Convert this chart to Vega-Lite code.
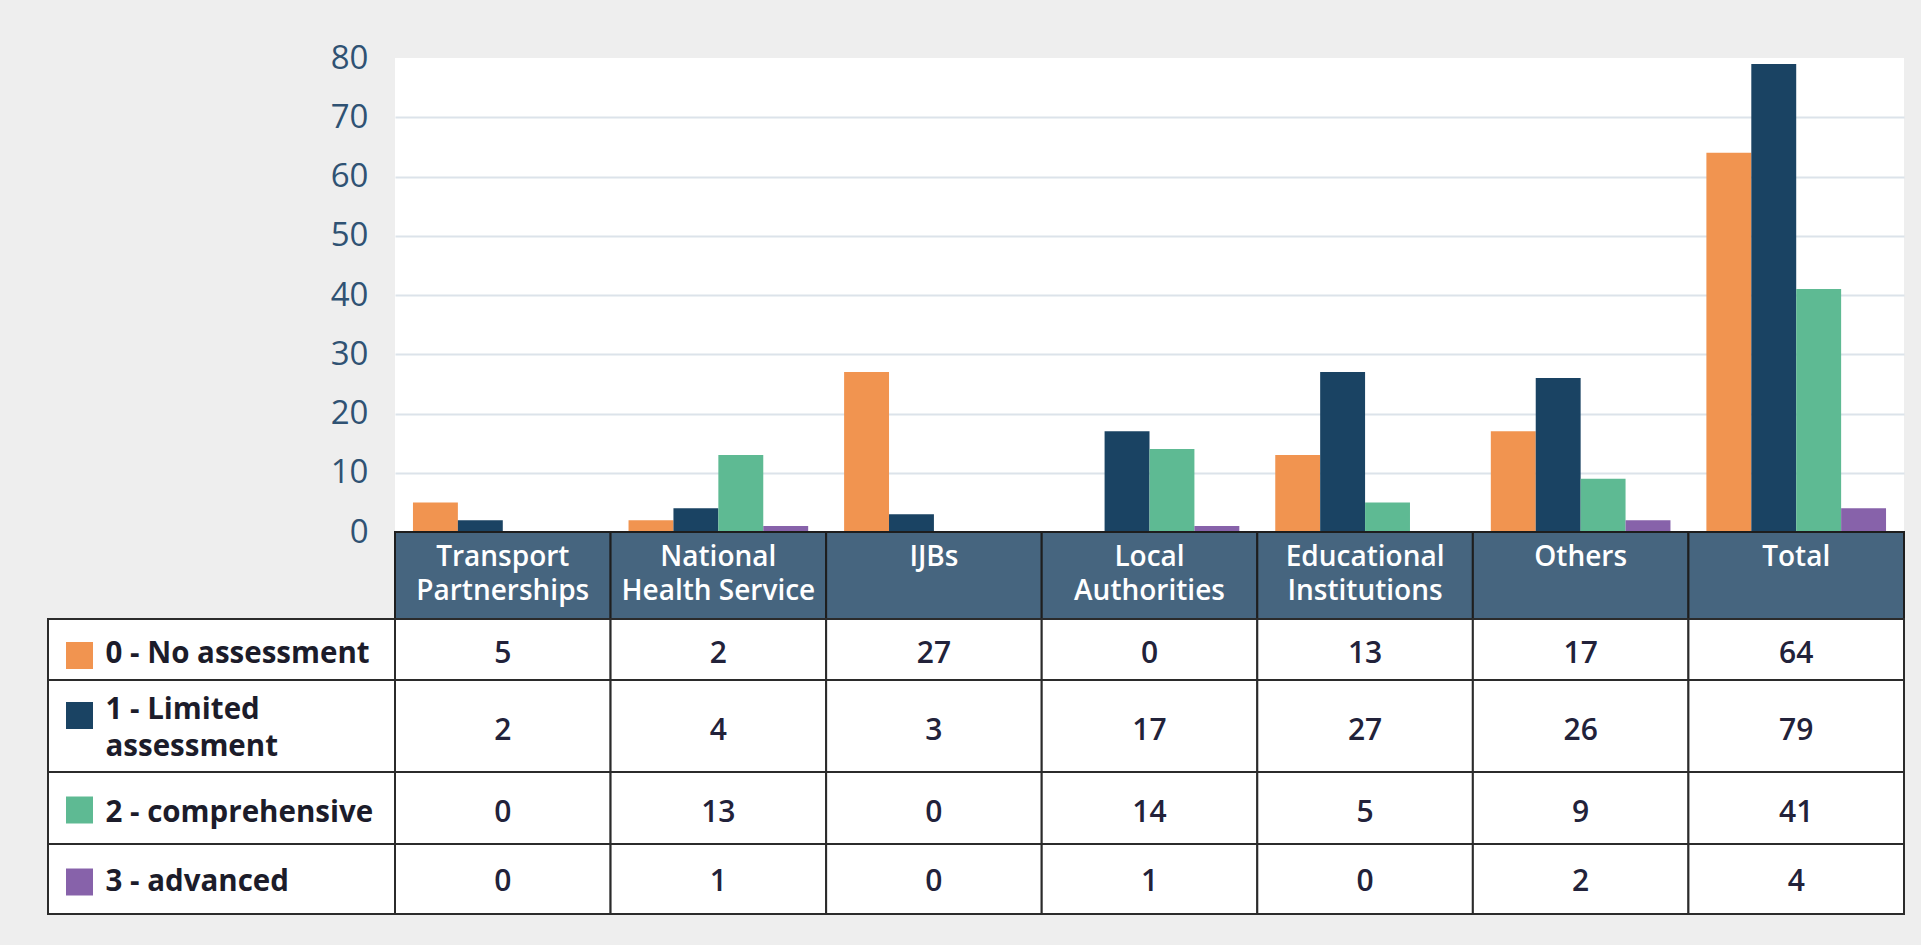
{
  "$schema": "https://vega.github.io/schema/vega-lite/v6.json",
  "background": "#eeeeee",
  "padding": {"left": 47, "top": 42, "right": 16, "bottom": 30},
  "config": {"view": {"stroke": null}, "font": "Open Sans"},
  "datasets": {
    "counts": [
      {"sector": "Transport Partnerships", "level": "0 - No assessment", "count": 5},
      {"sector": "Transport Partnerships", "level": "1 - Limited assessment", "count": 2},
      {"sector": "Transport Partnerships", "level": "2 - comprehensive", "count": 0},
      {"sector": "Transport Partnerships", "level": "3 - advanced", "count": 0},
      {"sector": "National Health Service", "level": "0 - No assessment", "count": 2},
      {"sector": "National Health Service", "level": "1 - Limited assessment", "count": 4},
      {"sector": "National Health Service", "level": "2 - comprehensive", "count": 13},
      {"sector": "National Health Service", "level": "3 - advanced", "count": 1},
      {"sector": "IJBs", "level": "0 - No assessment", "count": 27},
      {"sector": "IJBs", "level": "1 - Limited assessment", "count": 3},
      {"sector": "IJBs", "level": "2 - comprehensive", "count": 0},
      {"sector": "IJBs", "level": "3 - advanced", "count": 0},
      {"sector": "Local Authorities", "level": "0 - No assessment", "count": 0},
      {"sector": "Local Authorities", "level": "1 - Limited assessment", "count": 17},
      {"sector": "Local Authorities", "level": "2 - comprehensive", "count": 14},
      {"sector": "Local Authorities", "level": "3 - advanced", "count": 1},
      {"sector": "Educational Institutions", "level": "0 - No assessment", "count": 13},
      {"sector": "Educational Institutions", "level": "1 - Limited assessment", "count": 27},
      {"sector": "Educational Institutions", "level": "2 - comprehensive", "count": 5},
      {"sector": "Educational Institutions", "level": "3 - advanced", "count": 0},
      {"sector": "Others", "level": "0 - No assessment", "count": 17},
      {"sector": "Others", "level": "1 - Limited assessment", "count": 26},
      {"sector": "Others", "level": "2 - comprehensive", "count": 9},
      {"sector": "Others", "level": "3 - advanced", "count": 2},
      {"sector": "Total", "level": "0 - No assessment", "count": 64},
      {"sector": "Total", "level": "1 - Limited assessment", "count": 79},
      {"sector": "Total", "level": "2 - comprehensive", "count": 41},
      {"sector": "Total", "level": "3 - advanced", "count": 4}
    ],
    "sectors": [
      {"sector": "Transport Partnerships", "header": "Transport\nPartnerships"},
      {"sector": "National Health Service", "header": "National\nHealth Service"},
      {"sector": "IJBs", "header": "IJBs"},
      {"sector": "Local Authorities", "header": "Local\nAuthorities"},
      {"sector": "Educational Institutions", "header": "Educational\nInstitutions"},
      {"sector": "Others", "header": "Others"},
      {"sector": "Total", "header": "Total"}
    ],
    "levels": [
      {"level": "0 - No assessment", "rowLabel": "0 - No assessment"},
      {"level": "1 - Limited assessment", "rowLabel": "1 - Limited\nassessment"},
      {"level": "2 - comprehensive", "rowLabel": "2 - comprehensive"},
      {"level": "3 - advanced", "rowLabel": "3 - advanced"}
    ]
  },
  "columns": 2,
  "spacing": 0,
  "bounds": "flush",
  "resolve": {"scale": {"x": "independent", "y": "independent"}},
  "concat": [
    {
      "width": 347, "height": 474,
      "data": {"values": [{"blank": ""}]},
      "mark": {"type": "text"},
      "encoding": {"text": {"field": "blank"}}
    },
    {
      "width": 1509, "height": 474,
      "view": {"fill": "white", "stroke": null},
      "data": {"name": "counts"},
      "mark": {"type": "bar"},
      "encoding": {
        "x": {"field": "sector", "type": "nominal", "sort": ["Transport Partnerships", "National Health Service", "IJBs", "Local Authorities", "Educational Institutions", "Others", "Total"], "scale": {"paddingInner": 0, "paddingOuter": 0}, "axis": null},
        "xOffset": {"field": "level", "type": "nominal", "sort": ["0 - No assessment", "1 - Limited assessment", "2 - comprehensive", "3 - advanced"], "scale": {"paddingInner": 0, "paddingOuter": 0.4}},
        "y": {
          "field": "count", "type": "quantitative",
          "scale": {"domain": [0, 80], "nice": false},
          "axis": {
            "values": [0, 10, 20, 30, 40, 50, 60, 70, 80],
            "title": null, "domain": false, "ticks": false,
            "labelPadding": 27, "labelFontSize": 33, "labelColor": "#2f5273", "labelFont": "Open Sans",
            "gridColor": "#dce3ea", "gridWidth": 2,
            "gridOpacity": {"condition": {"test": "datum.value === 80", "value": 0}, "value": 1}
          }
        },
        "color": {"field": "level", "type": "nominal", "scale": {"domain": ["0 - No assessment", "1 - Limited assessment", "2 - comprehensive", "3 - advanced"], "range": ["#f19450", "#1a4363", "#5eba93", "#8762aa"]}, "legend": null}
      }
    },
    {
      "width": 347, "height": 87,
      "data": {"values": [{"blank": ""}]},
      "mark": {"type": "text"},
      "encoding": {"text": {"field": "blank"}}
    },
    {
      "width": 1509, "height": 87,
      "data": {"name": "sectors"},
      "encoding": {
        "x": {"field": "sector", "type": "nominal", "sort": ["Transport Partnerships", "National Health Service", "IJBs", "Local Authorities", "Educational Institutions", "Others", "Total"], "scale": {"paddingInner": 0, "paddingOuter": 0}, "axis": null}
      },
      "layer": [
        {"mark": {"type": "rect", "fill": "#46657f", "stroke": "#1e1e1e", "strokeWidth": 2}},
        {
          "mark": {"type": "text", "color": "white", "fontSize": 28, "fontWeight": 600, "baseline": "top", "lineBreak": "\n", "lineHeight": 34, "dy": -32},
          "encoding": {"text": {"field": "header"}}
        }
      ]
    },
    {
      "width": 347, "height": 61,
      "data": {"name": "levels"},
      "transform": [{"filter": {"field": "level", "equal": "0 - No assessment"}}],
      "layer": [
        {"mark": {"type": "rect", "fill": "white", "stroke": "#2b2b2b", "strokeWidth": 2}},
        {
          "mark": {"type": "square", "size": 729, "opacity": 1, "xOffset": -142, "yOffset": 6},
          "encoding": {"color": {"field": "level", "type": "nominal", "scale": {"domain": ["0 - No assessment", "1 - Limited assessment", "2 - comprehensive", "3 - advanced"], "range": ["#f19450", "#1a4363", "#5eba93", "#8762aa"]}, "legend": null}}
        },
        {
          "mark": {"type": "text", "align": "left", "baseline": "alphabetic", "dx": -116, "dy": 13.5, "fontSize": 29.5, "fontWeight": 700, "lineBreak": "\n", "lineHeight": 37, "color": "#1c1c2a"},
          "encoding": {"text": {"field": "rowLabel"}}
        }
      ]
    },
    {
      "width": 1509, "height": 61,
      "data": {"name": "counts"},
      "transform": [{"filter": {"field": "level", "equal": "0 - No assessment"}}],
      "encoding": {
        "x": {"field": "sector", "type": "nominal", "sort": ["Transport Partnerships", "National Health Service", "IJBs", "Local Authorities", "Educational Institutions", "Others", "Total"], "scale": {"paddingInner": 0, "paddingOuter": 0}, "axis": null}
      },
      "layer": [
        {"mark": {"type": "rect", "fill": "white", "stroke": "#2b2b2b", "strokeWidth": 2}},
        {
          "mark": {"type": "text", "baseline": "alphabetic", "dy": 13.5, "fontSize": 30, "fontWeight": 600, "color": "#22223a"},
          "encoding": {"text": {"field": "count", "type": "quantitative"}}
        }
      ]
    },
    {
      "width": 347, "height": 92,
      "data": {"name": "levels"},
      "transform": [{"filter": {"field": "level", "equal": "1 - Limited assessment"}}],
      "layer": [
        {"mark": {"type": "rect", "fill": "white", "stroke": "#2b2b2b", "strokeWidth": 2}},
        {
          "mark": {"type": "square", "size": 729, "opacity": 1, "xOffset": -142, "yOffset": -10.5},
          "encoding": {"color": {"field": "level", "type": "nominal", "scale": {"domain": ["0 - No assessment", "1 - Limited assessment", "2 - comprehensive", "3 - advanced"], "range": ["#f19450", "#1a4363", "#5eba93", "#8762aa"]}, "legend": null}}
        },
        {
          "mark": {"type": "text", "align": "left", "baseline": "alphabetic", "dx": -116, "dy": -7, "fontSize": 29.5, "fontWeight": 700, "lineBreak": "\n", "lineHeight": 37, "color": "#1c1c2a"},
          "encoding": {"text": {"field": "rowLabel"}}
        }
      ]
    },
    {
      "width": 1509, "height": 92,
      "data": {"name": "counts"},
      "transform": [{"filter": {"field": "level", "equal": "1 - Limited assessment"}}],
      "encoding": {
        "x": {"field": "sector", "type": "nominal", "sort": ["Transport Partnerships", "National Health Service", "IJBs", "Local Authorities", "Educational Institutions", "Others", "Total"], "scale": {"paddingInner": 0, "paddingOuter": 0}, "axis": null}
      },
      "layer": [
        {"mark": {"type": "rect", "fill": "white", "stroke": "#2b2b2b", "strokeWidth": 2}},
        {
          "mark": {"type": "text", "baseline": "alphabetic", "dy": 14, "fontSize": 30, "fontWeight": 600, "color": "#22223a"},
          "encoding": {"text": {"field": "count", "type": "quantitative"}}
        }
      ]
    },
    {
      "width": 347, "height": 72,
      "data": {"name": "levels"},
      "transform": [{"filter": {"field": "level", "equal": "2 - comprehensive"}}],
      "layer": [
        {"mark": {"type": "rect", "fill": "white", "stroke": "#2b2b2b", "strokeWidth": 2}},
        {
          "mark": {"type": "square", "size": 729, "opacity": 1, "xOffset": -142, "yOffset": 2},
          "encoding": {"color": {"field": "level", "type": "nominal", "scale": {"domain": ["0 - No assessment", "1 - Limited assessment", "2 - comprehensive", "3 - advanced"], "range": ["#f19450", "#1a4363", "#5eba93", "#8762aa"]}, "legend": null}}
        },
        {
          "mark": {"type": "text", "align": "left", "baseline": "alphabetic", "dx": -116, "dy": 13.5, "fontSize": 29.5, "fontWeight": 700, "lineBreak": "\n", "lineHeight": 37, "color": "#1c1c2a"},
          "encoding": {"text": {"field": "rowLabel"}}
        }
      ]
    },
    {
      "width": 1509, "height": 72,
      "data": {"name": "counts"},
      "transform": [{"filter": {"field": "level", "equal": "2 - comprehensive"}}],
      "encoding": {
        "x": {"field": "sector", "type": "nominal", "sort": ["Transport Partnerships", "National Health Service", "IJBs", "Local Authorities", "Educational Institutions", "Others", "Total"], "scale": {"paddingInner": 0, "paddingOuter": 0}, "axis": null}
      },
      "layer": [
        {"mark": {"type": "rect", "fill": "white", "stroke": "#2b2b2b", "strokeWidth": 2}},
        {
          "mark": {"type": "text", "baseline": "alphabetic", "dy": 14, "fontSize": 30, "fontWeight": 600, "color": "#22223a"},
          "encoding": {"text": {"field": "count", "type": "quantitative"}}
        }
      ]
    },
    {
      "width": 347, "height": 70,
      "data": {"name": "levels"},
      "transform": [{"filter": {"field": "level", "equal": "3 - advanced"}}],
      "layer": [
        {"mark": {"type": "rect", "fill": "white", "stroke": "#2b2b2b", "strokeWidth": 2}},
        {
          "mark": {"type": "square", "size": 729, "opacity": 1, "xOffset": -142, "yOffset": 3},
          "encoding": {"color": {"field": "level", "type": "nominal", "scale": {"domain": ["0 - No assessment", "1 - Limited assessment", "2 - comprehensive", "3 - advanced"], "range": ["#f19450", "#1a4363", "#5eba93", "#8762aa"]}, "legend": null}}
        },
        {
          "mark": {"type": "text", "align": "left", "baseline": "alphabetic", "dx": -116, "dy": 11.5, "fontSize": 29.5, "fontWeight": 700, "lineBreak": "\n", "lineHeight": 37, "color": "#1c1c2a"},
          "encoding": {"text": {"field": "rowLabel"}}
        }
      ]
    },
    {
      "width": 1509, "height": 70,
      "data": {"name": "counts"},
      "transform": [{"filter": {"field": "level", "equal": "3 - advanced"}}],
      "encoding": {
        "x": {"field": "sector", "type": "nominal", "sort": ["Transport Partnerships", "National Health Service", "IJBs", "Local Authorities", "Educational Institutions", "Others", "Total"], "scale": {"paddingInner": 0, "paddingOuter": 0}, "axis": null}
      },
      "layer": [
        {"mark": {"type": "rect", "fill": "white", "stroke": "#2b2b2b", "strokeWidth": 2}},
        {
          "mark": {"type": "text", "baseline": "alphabetic", "dy": 11.5, "fontSize": 30, "fontWeight": 600, "color": "#22223a"},
          "encoding": {"text": {"field": "count", "type": "quantitative"}}
        }
      ]
    }
  ]
}
